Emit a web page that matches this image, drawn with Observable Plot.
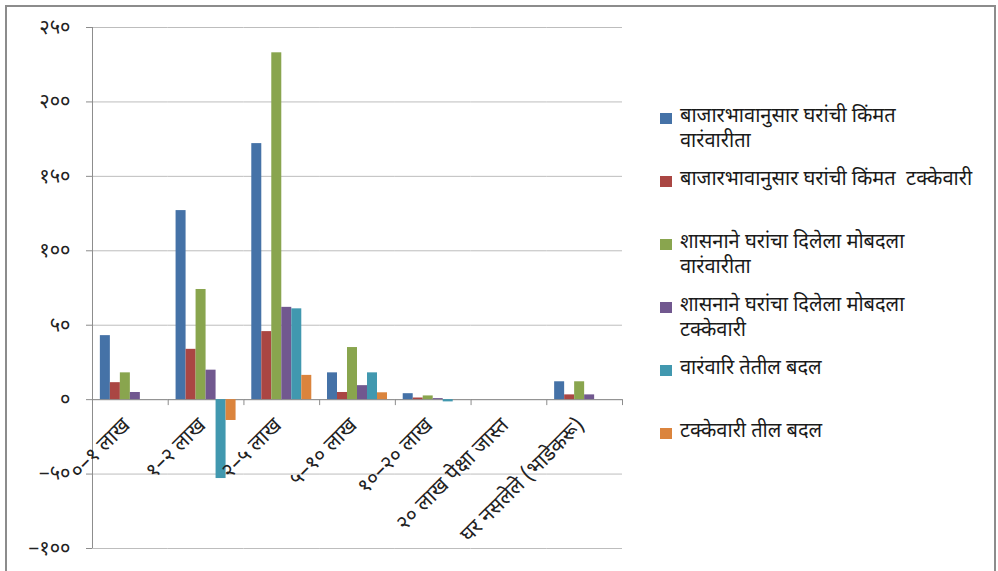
<!DOCTYPE html>
<html>
<head>
<meta charset="utf-8">
<script src="https://cdn.jsdelivr.net/npm/d3@7"></script>
<script src="https://cdn.jsdelivr.net/npm/@observablehq/plot@0.6"></script>
<style>
  html, body { margin: 0; padding: 0; background: #fff; }
  #wrap { position: relative; width: 998px; height: 571px; overflow: hidden;
    font-family: "Noto Sans Devanagari", "Lohit Devanagari", "Noto Sans", "DejaVu Sans", sans-serif; }
  #chart { position: absolute; left: 0; top: 0; }
  #border { position: absolute; left: 5px; top: 5px; width: 987px; height: 580px;
    border: 2px solid #8c8c8c; pointer-events: none; }
  #legend { position: absolute; left: 660px; top: 105px; color: #1a1a1a; font-size: 20px; }
  .item { display: flex; align-items: flex-start; height: 63px; }
  .sw { width: 12px; height: 11px; margin-top: 8px; margin-right: 8px; flex: none; }
  .lab { line-height: 25px; white-space: pre; }
</style>
</head>
<body>
<div id="wrap">
  <div id="chart"></div>
  <div id="legend"></div>
  <div id="border"></div>
</div>
<script>
// Categories (x groups)
const categories = ["०–१ लाख", "१–२ लाख", "२–५ लाख", "५–१० लाख", "१०–२० लाख", "२० लाख पेक्षा जास्त", "घर नसलेले (भाडेकरू)"];
// Series names
const series = [
  "बाजारभावानुसार घरांची किंमत वारंवारीता",
  "बाजारभावानुसार घरांची किंमत  टक्केवारी",
  "शासनाने घरांचा दिलेला मोबदला वारंवारीता",
  "शासनाने घरांचा दिलेला मोबदला टक्केवारी",
  "वारंवारि तेतील बदल",
  "टक्केवारी तील बदल"
];
const legendLabels = [
  "बाजारभावानुसार घरांची किंमत\nवारंवारीता",
  "बाजारभावानुसार घरांची किंमत  टक्केवारी",
  "शासनाने घरांचा दिलेला मोबदला\nवारंवारीता",
  "शासनाने घरांचा दिलेला मोबदला\nटक्केवारी",
  "वारंवारि तेतील बदल",
  "टक्केवारी तील बदल"
];
const colors = ["#4572A7", "#AA4643", "#89A54E", "#71588F", "#4198AF", "#DB843D"];
// Series values (one per category)
const marketFreq   = [43, 127, 172, 18, 4, 0, 12];
const marketPct    = [11.4, 33.8, 45.7, 4.8, 1.1, 0, 3.2];
const govFreq      = [18, 74, 233, 35, 2.5, 0, 12];
const govPct       = [4.8, 19.8, 62, 9.4, 0.7, 0, 3.2];
const freqChange   = [0, -53, 61, 18, -1.5, 0, 0];
const pctChange    = [0, -14, 16.3, 4.6, 0, 0, 0];
// Y tick values and Devanagari digits for labels
const yTicks = [-100, -50, 0, 50, 100, 150, 200, 250];
const digits = ["०","१","२","३","४","५","६","७","८","९"];
const fmt = v => String(v).replace("-", "−").replace(/[0-9]/g, c => digits[+c]);

const valueArrays = [marketFreq, marketPct, govFreq, govPct, freqChange, pctChange];
const rows = [];
categories.forEach((c, ci) => valueArrays.forEach((arr, si) => rows.push({category: c, series: series[si], value: arr[ci]})));

const edge = -12.86; // offset from first bar center to group boundary
const chart = Plot.plot({
  width: 630,
  height: 571,
  marginLeft: 92,
  marginRight: 8,
  marginTop: 27,
  marginBottom: 23,
  style: {fontSize: "15px", fontFamily: "'Noto Sans Devanagari','Lohit Devanagari','Noto Sans',sans-serif", background: "transparent", overflow: "visible"},
  fx: {domain: categories, padding: 0, axis: null, round: false},
  x: {domain: series, paddingInner: 0, paddingOuter: 0.786, axis: null, round: false},
  y: {domain: [-100, 250], axis: null},
  color: {domain: series, range: colors},
  marks: [
    Plot.gridY(yTicks, {stroke: "#bdbdbd", strokeOpacity: 1}),
    Plot.ruleY([0], {stroke: "#8c8c8c"}),
    Plot.axisY(yTicks, {tickFormat: fmt, tickSize: 6, tickPadding: 16, stroke: "#8c8c8c", fill: "#222", fontSize: 20, label: null}),
    Plot.ruleX([categories[0]], {fx: d => d, x: () => series[0], dx: edge, y1: () => -100, y2: () => 250, stroke: "#8c8c8c"}),
    Plot.ruleX(categories, {fx: d => d, x: () => series[0], dx: edge, y1: () => 0, y2: () => -4, stroke: "#8c8c8c"}),
    Plot.ruleX([categories[categories.length - 1]], {fx: d => d, x: () => series[series.length - 1], dx: -edge, y1: () => 0, y2: () => -4, stroke: "#8c8c8c"}),
    Plot.barY(rows, {fx: "category", x: "series", y: "value", fill: "series"}),
    Plot.text(categories, {fx: d => d, y: () => 0, text: d => d, rotate: -45, textAnchor: "end", dx: -4, dy: 22, fill: "#222", fontSize: 21})
  ]
});
document.getElementById("chart").appendChild(chart);

const legend = document.getElementById("legend");
series.forEach((s, i) => {
  const it = document.createElement("div");
  it.className = "item";
  it.innerHTML = `<div class="sw" style="background:${colors[i]}"></div><div class="lab"></div>`;
  it.querySelector(".lab").textContent = legendLabels[i];
  legend.appendChild(it);
});
</script>
</body>
</html>
